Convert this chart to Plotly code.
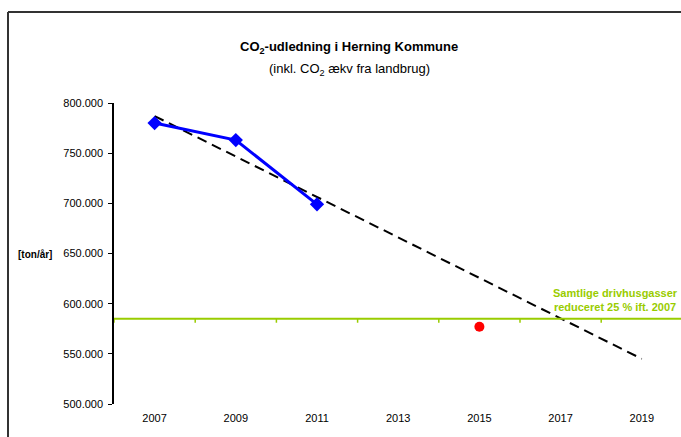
import plotly.graph_objects as go

# ---- data ----
years = [2007, 2009, 2011]
emissions = [780000, 763000, 699000]
target_year = [2015]
target_value = [577000]
trend_years = [2007, 2019]
trend_values = [787000, 545000]
reduction_level = 585000
category_labels = ["2007", "2009", "2011", "2013", "2015", "2017", "2019"]
category_centers = [2007, 2009, 2011, 2013, 2015, 2017, 2019]
category_bounds = [2006, 2008, 2010, 2012, 2014, 2016, 2018, 2020]
y_ticks = [500000, 550000, 600000, 650000, 700000, 750000, 800000]

W, H = 681, 437
L, R, T, B = 114, 681, 103, 404
def px(x):
    return (x - L) / (R - L)
def py(y):
    return (B - y) / (B - T)

GREEN = "#99cc00"
FONT = "Arial, Liberation Sans, sans-serif"

fig = go.Figure()

fig.add_trace(go.Scatter(
    x=trend_years, y=trend_values, mode="lines",
    line=dict(color="black", width=2, dash="10px,6px"),
    hoverinfo="skip", showlegend=False))

fig.add_trace(go.Scatter(
    x=years, y=emissions, mode="lines+markers",
    line=dict(color="#0000ff", width=3),
    marker=dict(symbol="diamond", size=11, color="#0000ff"),
    showlegend=False))

fig.add_trace(go.Scatter(
    x=target_year, y=target_value, mode="markers",
    marker=dict(symbol="circle", size=10, color="#ff0000"),
    showlegend=False))

# green reduction line acting as category axis
fig.add_shape(type="line", xref="paper", yref="y", x0=0, x1=1.01,
              y0=reduction_level, y1=reduction_level,
              line=dict(color=GREEN, width=2))
for b in category_bounds:
    fig.add_shape(type="line", xref="x", yref="y", x0=b, x1=b,
                  y0=reduction_level, y1=reduction_level - 4000,
                  line=dict(color=GREEN, width=1.5))

# outer frame
fig.add_shape(type="line", xref="paper", yref="paper",
              x0=px(8), x1=px(8), y0=py(12), y1=py(440),
              line=dict(color="#333333", width=2))
fig.add_shape(type="line", xref="paper", yref="paper",
              x0=px(8), x1=px(690), y0=py(12), y1=py(12),
              line=dict(color="#333333", width=2))

annotations = [
    dict(x=px(349), y=py(37), xref="paper", yref="paper",
         text="<b>CO<sub>2</sub>-udledning i Herning Kommune</b>",
         showarrow=False, font=dict(size=13, color="black", family=FONT)),
    dict(x=px(349), y=py(59), xref="paper", yref="paper",
         text="(inkl. CO<sub>2</sub> ækv fra landbrug)",
         showarrow=False, font=dict(size=13, color="black", family=FONT)),
    dict(x=px(54), y=py(254), xref="paper", yref="paper", xanchor="right",
         text="<b>[ton/år]</b>", showarrow=False,
         font=dict(size=10, color="black", family=FONT)),
    dict(x=px(680), y=py(300), xref="paper", yref="paper", xanchor="right",
         text="<b>Samtlige drivhusgasser<br>reduceret 25 % ift. 2007</b>",
         showarrow=False, align="center",
         font=dict(size=11, color=GREEN, family=FONT)),
]

fig.update_layout(
    width=W, height=H,
    margin=dict(l=L, r=W - R, t=T, b=H - B),
    paper_bgcolor="white", plot_bgcolor="white",
    separators=",.",
    annotations=annotations,
    font=dict(family=FONT, size=11, color="black"),
)
fig.update_xaxes(
    range=[2006, 2006 + (R - L) / 40.6],
    tickvals=category_centers, ticktext=category_labels,
    ticks="outside", ticklen=4, tickcolor="rgba(0,0,0,0)",
    showline=False, showgrid=False, zeroline=False,
    tickfont=dict(size=11, color="black", family=FONT),
)
fig.update_yaxes(
    range=[500000, 800000], tickvals=y_ticks, tickformat=",.0f",
    ticks="outside", ticklen=4, tickcolor="black",
    ticklabelstandoff=3,
    showline=True, linecolor="black", linewidth=1.5,
    showgrid=False, zeroline=False,
    tickfont=dict(size=11, color="black", family=FONT),
)

fig.write_html("out.html", config={"displayModeBar": False},
               post_script="document.body.style.margin='0';document.body.style.overflow='hidden';")
